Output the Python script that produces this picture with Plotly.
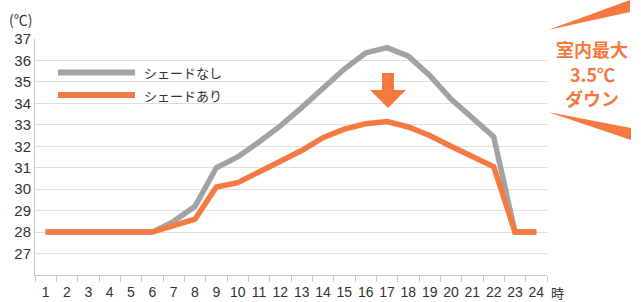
import plotly.graph_objects as go

hours = [str(h) for h in range(1, 25)]
no_shade = [28, 28, 28, 28, 28, 28, 28.5, 29.2, 31.0, 31.5, 32.2, 32.95, 33.8, 34.7,
            35.6, 36.35, 36.6, 36.2, 35.3, 34.2, 33.3, 32.45, 28, 28]
with_shade = [28, 28, 28, 28, 28, 28, 28.3, 28.6, 30.1, 30.3, 30.8, 31.3, 31.8, 32.4,
              32.8, 33.05, 33.15, 32.9, 32.5, 32.0, 31.5, 31.05, 28, 28]
series_names = ["シェードなし", "シェードあり"]
y_ticks = list(range(27, 38))

GRAY = "#a3a3a3"
ORANGE = "#f57a42"
FONT = "Liberation Sans, Noto Sans CJK JP, sans-serif"
JFONT = "Noto Sans CJK JP, sans-serif"

W, H = 641, 302
L, R, T, B = 35, 547, 39, 275

def px(x):
    return (x - L) / (R - L)

def py(y):
    return (B - y) / (B - T)

fig = go.Figure()
fig.add_trace(go.Scatter(x=hours, y=no_shade, mode="lines", name=series_names[0],
                         line=dict(color=GRAY, width=5.5), showlegend=False))
fig.add_trace(go.Scatter(x=hours, y=with_shade, mode="lines", name=series_names[1],
                         line=dict(color=ORANGE, width=5.5), showlegend=False))

shapes = []
# legend swatches
shapes.append(dict(type="line", xref="paper", yref="paper", x0=px(58), x1=px(135),
                   y0=py(72.5), y1=py(72.5), line=dict(color=GRAY, width=6)))
shapes.append(dict(type="line", xref="paper", yref="paper", x0=px(58), x1=px(135),
                   y0=py(95), y1=py(95), line=dict(color=ORANGE, width=6)))

def path(points):
    s = "M" + " L".join(f"{px(a):.5f},{py(b):.5f}" for a, b in points) + " Z"
    return s

# down arrow
arrow = [(382, 73), (394, 73), (394, 90), (406, 90), (388, 108), (370, 90), (382, 90)]
shapes.append(dict(type="path", xref="paper", yref="paper", path=path(arrow),
                   fillcolor=ORANGE, line=dict(width=0)))
# wedges
shapes.append(dict(type="path", xref="paper", yref="paper",
                   path=path([(548, 30), (630, 0), (630, 12)]),
                   fillcolor=ORANGE, line=dict(width=0)))
shapes.append(dict(type="path", xref="paper", yref="paper",
                   path=path([(548, 112), (631, 128), (631, 140)]),
                   fillcolor=ORANGE, line=dict(width=0)))

annotations = [
    dict(text=series_names[0], x=px(142), y=py(73), xanchor="left", yanchor="middle"),
    dict(text=series_names[1], x=px(142), y=py(95), xanchor="left", yanchor="middle"),
    dict(text="(℃)", x=px(7), y=py(19), xanchor="left", yanchor="middle",
         font=dict(family=JFONT, size=14, color="#333")),
    dict(text="時", x=px(549), y=py(292), xanchor="left", yanchor="middle",
         font=dict(family=JFONT, size=13, color="#333")),
]
for t, yy in [("室内最大", 49), ("3.5℃", 74), ("ダウン", 98)]:
    annotations.append(dict(text=f"<b>{t}</b>", x=px(592), y=py(yy), xanchor="center",
                            yanchor="middle",
                            font=dict(family=JFONT, size=18, color=ORANGE)))
for a in annotations:
    a.setdefault("font", dict(family=JFONT, size=13, color="#333"))
    a.update(xref="paper", yref="paper", showarrow=False)

fig.update_layout(
    width=W, height=H,
    margin=dict(l=L, r=W - R, t=T, b=H - B, pad=0),
    paper_bgcolor="white", plot_bgcolor="white",
    shapes=shapes, annotations=annotations,
    font=dict(family=FONT, size=14, color="#333"),
    xaxis=dict(type="category", range=[-0.5, len(hours) - 0.5], tickson="boundaries",
               ticks="outside", ticklen=6,
               tickcolor="#c8c8c8", showline=True, linecolor="#c8c8c8", linewidth=1,
               showgrid=False, tickangle=0, tickfont=dict(size=14, color="#333"),
               automargin=False, ticklabelstandoff=4, fixedrange=True),
    yaxis=dict(range=[26, 37], tickvals=y_ticks, showgrid=True, gridcolor="#dedede",
               showline=True, linecolor="#c8c8c8", linewidth=1, ticks="",
               tickfont=dict(size=15, color="#333"), zeroline=False,
               automargin=False, fixedrange=True),
)
fig.write_html("out.html", config={"displayModeBar": False, "staticPlot": True},
               post_script="document.body.style.margin='0';document.body.style.overflow='hidden';")
